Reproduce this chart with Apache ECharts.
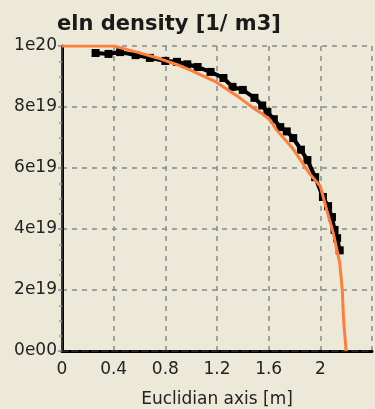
<!DOCTYPE html>
<html><head><meta charset="utf-8">
<script src="https://cdn.jsdelivr.net/npm/echarts@6/dist/echarts.min.js"></script>
<style>html,body{margin:0;padding:0;background:#ECE9D8;}#c{width:375px;height:409px;}</style>
</head><body><div id="c"></div>
<script>
const titleText = 'eln density [1/ m3]';
const xName = 'Euclidian axis [m]';
const xTickLabels = ['0','0.4','0.8','1.2','1.6','2',''];
const yTickLabels = {0:'0e00',2e19:'2e19',4e19:'4e19',6e19:'6e19',8e19:'8e19',1e20:'1e20'};
// measured (black squares)
const measX = [0.26,0.36,0.45,0.57,0.68,0.80,0.89,0.97,1.05,1.15,1.25,1.32,1.40,1.49,1.55,1.59,1.64,1.69,1.74,1.79,1.85,1.90,1.96,2.02,2.06,2.09,2.11,2.13,2.15];
const measY = [9.77e19,9.74e19,9.80e19,9.70e19,9.61e19,9.51e19,9.48e19,9.40e19,9.31e19,9.15e19,8.95e19,8.66e19,8.56e19,8.30e19,8.05e19,7.84e19,7.60e19,7.34e19,7.20e19,6.98e19,6.60e19,6.26e19,5.70e19,5.05e19,4.75e19,4.39e19,3.97e19,3.70e19,3.30e19];
// model (orange line)
const modelX = [0,0.40,0.58,0.76,0.91,0.99,1.18,1.35,1.48,1.55,1.61,1.66,1.79,1.92,2.00,2.05,2.10,2.15,2.17,2.18,2.19,2.20];
const modelY = [10.0e19,10.0e19,9.80e19,9.58e19,9.36e19,9.22e19,8.85e19,8.38e19,7.97e19,7.78e19,7.58e19,7.25e19,6.62e19,5.80e19,5.40e19,4.62e19,3.87e19,2.89e19,2.00e19,1.02e19,0.50e19,0];

const font = 'DejaVu Sans, Verdana, sans-serif';
const chart = echarts.init(document.getElementById('c'), null, {renderer:'canvas'});
chart.setOption({
  backgroundColor:'#ECE9D8',
  animation:false,
  title:{text:titleText,left:52,top:9,textStyle:{fontFamily:font,fontWeight:'bold',fontSize:21,color:'#1a1a1a'}},
  grid:{left:62,top:46,right:3,bottom:58,containLabel:false,outerBoundsMode:'none'},
  xAxis:[{
    type:'value',min:0,max:2.4,interval:0.4,
    name:xName,nameLocation:'middle',nameGap:40,
    nameTextStyle:{fontFamily:font,fontSize:17,color:'#222'},
    axisLine:{show:true,onZero:false,lineStyle:{color:'#000',width:3}},
    axisTick:{show:false},
    axisLabel:{fontFamily:font,fontSize:17,color:'#222',margin:10,
      formatter:(v)=>xTickLabels[Math.round(v/0.4)]},
    splitLine:{show:true,lineStyle:{color:'#888',width:1.5,type:[5,5]}}
  },{
    type:'value',position:'top',min:0,max:2.4,
    axisLine:{show:true,lineStyle:{color:'#222',width:2,type:[6,4]}},
    axisTick:{show:false},axisLabel:{show:false},splitLine:{show:false}
  }],
  yAxis:[{
    type:'value',min:0,max:1e20,interval:2e19,
    axisLine:{show:true,onZero:false,lineStyle:{color:'#000',width:3}},
    axisTick:{show:true,length:4,lineStyle:{color:'#888',width:1.5}},
    minorTick:{show:true,splitNumber:4,length:3,lineStyle:{color:'#999',width:1.5}},
    axisLabel:{fontFamily:font,fontSize:17,color:'#222',margin:5,
      formatter:(v)=>yTickLabels[Math.round(v/1e19)*1e19]},
    splitLine:{show:true,lineStyle:{color:'#888',width:1.5,type:[5,5]}}
  },{
    type:'value',position:'right',min:0,max:1e20,
    axisLine:{show:true,lineStyle:{color:'#333',width:2}},
    axisTick:{show:false},axisLabel:{show:false},splitLine:{show:false}
  }],
  series:[{
    type:'line',
    data:measX.map((x,i)=>[x,measY[i]]),
    symbol:'rect',symbolSize:8,
    itemStyle:{color:'#000'},
    lineStyle:{color:'#000',width:4},
    z:2
  },{
    type:'line',
    data:modelX.map((x,i)=>[x,modelY[i]]),
    symbol:'none',
    lineStyle:{color:'#FF7F3A',width:3},
    z:3
  }]
});
</script></body></html>
